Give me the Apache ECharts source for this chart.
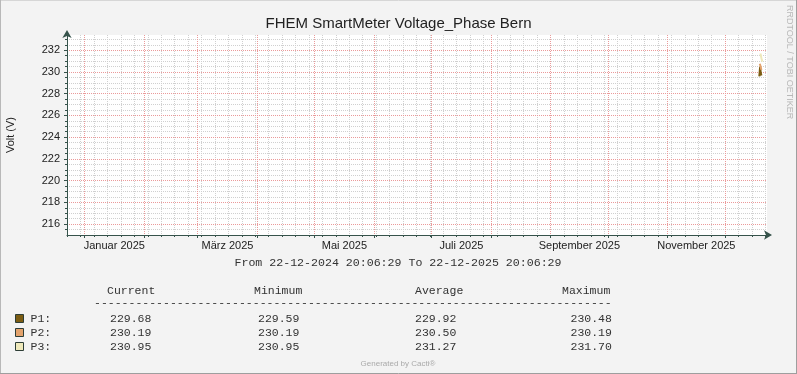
<!DOCTYPE html>
<html><head><meta charset="utf-8">
<script src="https://cdn.jsdelivr.net/npm/echarts@6/dist/echarts.min.js"></script>
<style>html,body{margin:0;padding:0;background:#f3f3f3}#c{width:797px;height:374px}</style>
</head><body><div id="c"></div>
<script>
// ---- data ----
const titleText = 'FHEM SmartMeter Voltage_Phase Bern';
const yAxisTitle = 'Volt (V)';
const startTime = '2024-12-22T20:06:29';
const endTime = '2025-12-22T20:06:29';
const seriesNames = ['P1', 'P2', 'P3'];
const seriesColors = ['#7b5c12', '#e3a26c', '#efe9bb'];
const p1Times = ['2025-12-18T20:00:00', '2025-12-19T06:00:00', '2025-12-19T14:00:00', '2025-12-19T22:00:00'];
const p1Values = [229.59, 230.48, 229.92, 229.68];
const p2Times = ['2025-12-19T02:00:00', '2025-12-19T12:00:00', '2025-12-19T22:00:00'];
const p2Values = [230.75, 230.50, 230.19];
const p3Times = ['2025-12-19T10:00:00', '2025-12-19T22:00:00', '2025-12-20T10:00:00'];
const p3Values = [231.70, 231.27, 230.95];
const yTickValues = [216, 218, 220, 222, 224, 226, 228, 230, 232];
const xLabelTexts = ['Januar 2025', 'März 2025', 'Mai 2025', 'Juli 2025', 'September 2025', 'November 2025'];
const xLabelMonths = [0, 2, 4, 6, 8, 10];
const statHeaders = ['Current', 'Minimum', 'Average', 'Maximum'];
const p1Stats = ['229.68', '229.59', '229.92', '230.48'];
const p2Stats = ['230.19', '230.19', '230.50', '230.19'];
const p3Stats = ['230.95', '230.95', '231.27', '231.70'];
const periodText = 'From 22-12-2024 20:06:29 To 22-12-2025 20:06:29';
const footerText = 'Generated by Cacti®';
const sideText = 'RRDTOOL / TOBI OETIKER';

// ---- derived ----
const t0 = new Date(startTime).getTime();
const t1 = new Date(endTime).getTime();
const toPairs = (ts, vs) => ts.map((t, i) => [new Date(t).getTime(), vs[i]]);
const seriesData = [toPairs(p1Times, p1Values), toPairs(p2Times, p2Values), toPairs(p3Times, p3Values)];
const monthStarts = [];
for (let m = 0; m < 12; m++) monthStarts.push(new Date(2025, m, 1).getTime());
const weekLines = [];
for (let d = new Date(2024, 11, 23); d.getTime() < t1; d = new Date(d.getFullYear(), d.getMonth(), d.getDate() + 7)) {
  if (d.getTime() > t0) weekLines.push(d.getTime());
}
const labelPos = xLabelMonths.map(m => (new Date(2025, m, 1).getTime() + new Date(2025, m + 1, 1).getTime()) / 2);
const yMinor = [];
for (let v = 215.5; v <= 233.01; v += 0.5) { const r = Math.round(v * 10) / 10; if (r % 2 !== 0) yMinor.push(r); }

const axisColor = '#36534b';
const labelFont = 'Liberation Sans';
const mono = 'Liberation Mono';
const txt = '#333';

const chart = echarts.init(document.getElementById('c'), null, { renderer: 'canvas' });

const graphics = [];
graphics.push({ type: 'line', shape: { x1: 0, y1: 0.5, x2: 797, y2: 0.5 }, style: { stroke: '#d6d6d6', lineWidth: 1 } });
graphics.push({ type: 'line', shape: { x1: 0.5, y1: 0, x2: 0.5, y2: 374 }, style: { stroke: '#b8b8b8', lineWidth: 1 } });
graphics.push({ type: 'line', shape: { x1: 796.5, y1: 0, x2: 796.5, y2: 374 }, style: { stroke: '#9e9e9e', lineWidth: 1 } });
graphics.push({ type: 'line', shape: { x1: 0, y1: 373.5, x2: 797, y2: 373.5 }, style: { stroke: '#9e9e9e', lineWidth: 1 } });
function text(s, x, y, font, fill, align, valign, rot) {
  graphics.push({ type: 'text', x: x, y: y, rotation: rot || 0, silent: true,
    style: { text: s, font: font, fill: fill, align: align, textAlign: align, verticalAlign: valign, textVerticalAlign: valign } });
}
text(yAxisTitle, 11, 135, '11px ' + labelFont, '#222', 'center', 'middle', Math.PI / 2);
text(sideText, 789, 5, '9px ' + labelFont, '#b8b8b8', 'left', 'middle', -Math.PI / 2);
text(periodText, 398, 263, '11.6px ' + mono, txt, 'center', 'middle');
const colX = [107, 254, 415, 562];
const valX = [110, 258, 415, 570.5];
statHeaders.forEach((h, i) => text(h, colX[i], 291, '11.5px ' + mono, txt, 'left', 'middle'));
text('-'.repeat(75), 94, 303, '11.5px ' + mono, txt, 'left', 'middle');
const rowsY = [319, 333, 347];
[p1Stats, p2Stats, p3Stats].forEach((row, r) => {
  graphics.push({ type: 'rect', shape: { x: 15.5, y: rowsY[r] - 4.5, width: 8, height: 8 },
    style: { fill: seriesColors[r], stroke: '#2d3d36', lineWidth: 1 } });
  text(seriesNames[r] + ':', 30.5, rowsY[r], '11.5px ' + mono, txt, 'left', 'middle');
  row.forEach((v, i) => text(v, valX[i], rowsY[r], '11.5px ' + mono, txt, 'left', 'middle'));
});
text(footerText, 398, 364, '8px ' + labelFont, '#aaaaaa', 'center', 'middle');

const minorLine = { show: true, lineStyle: { color: '#d0d0d0', type: [1, 1], width: 1 } };
const majorLine = { show: true, lineStyle: { color: '#eb9a9a', type: [1, 1], width: 1 } };

chart.setOption({
  backgroundColor: '#f3f3f3',
  animation: false,
  title: { text: titleText, left: 'center', top: 16, padding: 0,
    textStyle: { fontFamily: labelFont, fontSize: 15, fontWeight: 'normal', color: '#222' } },
  grid: { left: 67, top: 35, width: 700, height: 200, show: true, backgroundColor: '#ffffff', borderWidth: 0 },
  xAxis: [
    { type: 'value', position: 'bottom', min: t0, max: t1, z: 0,
      axisLine: { show: false },
      axisTick: { show: true, customValues: weekLines, length: 2, lineStyle: { color: axisColor } },
      axisLabel: { show: false },
      splitLine: minorLine },
    { type: 'value', position: 'bottom', min: t0, max: t1, z: 1,
      axisLine: { show: true, lineStyle: { color: axisColor, width: 1 }, symbol: ['none', 'arrow'], symbolSize: [7, 8], symbolOffset: [0, 5] },
      axisTick: { show: true, customValues: monthStarts, length: 3, lineStyle: { color: axisColor } },
      axisLabel: { show: true, customValues: labelPos, margin: 5, color: '#222', fontFamily: labelFont, fontSize: 11,
        formatter: v => { const i = labelPos.findIndex(p => Math.abs(p - v) < 3.6e6); return i >= 0 ? xLabelTexts[i] : ''; } },
      splitLine: majorLine }
  ],
  yAxis: [
    { type: 'value', position: 'left', min: 215, max: 233.4, z: 0,
      axisLine: { show: false },
      axisTick: { show: true, customValues: yMinor, length: 2, lineStyle: { color: axisColor } },
      axisLabel: { show: false },
      splitLine: minorLine },
    { type: 'value', position: 'left', min: 215, max: 233.4, z: 1,
      axisLine: { show: true, lineStyle: { color: axisColor, width: 1 }, symbol: ['none', 'arrow'], symbolSize: [7, 8], symbolOffset: [0, 5] },
      axisTick: { show: true, customValues: yTickValues, length: 3, lineStyle: { color: axisColor } },
      axisLabel: { show: true, customValues: yTickValues, margin: 7, color: '#222', fontFamily: labelFont, fontSize: 11 },
      splitLine: majorLine }
  ],
  series: seriesNames.map((n, i) => ({
    name: n, type: 'line', xAxisIndex: 1, yAxisIndex: 1, data: seriesData[i],
    showSymbol: false, symbol: 'none', z: 5 + i,
    lineStyle: { color: seriesColors[i], width: 2 }, itemStyle: { color: seriesColors[i] }
  })),
  graphic: { elements: graphics }
});
</script></body></html>
